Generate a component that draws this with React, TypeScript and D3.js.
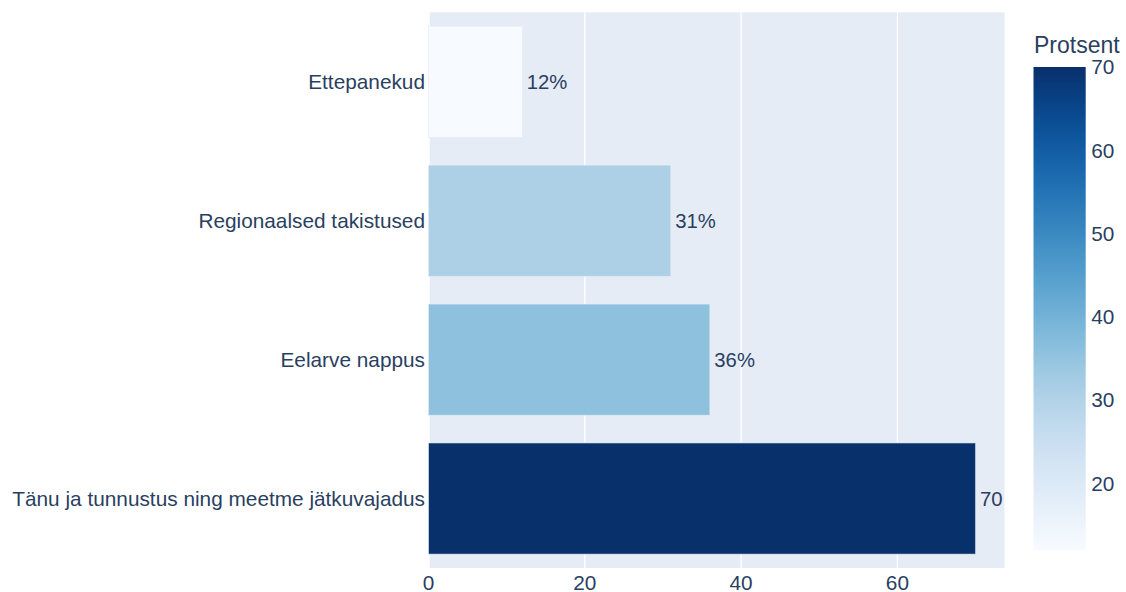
import React from "react";
import * as d3 from "d3";

const categories = [
  "Ettepanekud",
  "Regionaalsed takistused",
  "Eelarve nappus",
  "Tänu ja tunnustus ning meetme jätkuvajadus",
];
const values = [12, 31, 36, 70];
const valueLabels = ["12%", "31%", "36%", "70"];
const xTicks = [0, 20, 40, 60];
const cbTicks = [20, 30, 40, 50, 60, 70];
const bluesStops = [
  "rgb(247,251,255)",
  "rgb(222,235,247)",
  "rgb(198,219,239)",
  "rgb(158,202,225)",
  "rgb(107,174,214)",
  "rgb(66,146,198)",
  "rgb(33,113,181)",
  "rgb(8,81,156)",
  "rgb(8,48,107)",
];
const colorTitle = "Protsent";

const W = 1126;
const H = 592;
const plot = { left: 428.5, right: 1004.5, top: 12.3, bottom: 568 };
const cb = { left: 1033.5, right: 1085.7, top: 67, bottom: 550 };
const FONT = "'Liberation Sans', Arial, sans-serif";
const TXT = "#2a3f5f";

export default function App() {
  const x = d3.scaleLinear().domain([0, 73.7]).range([plot.left, plot.right]);
  const y = d3
    .scaleBand<string>()
    .domain(categories)
    .range([plot.top, plot.bottom])
    .paddingInner(0.2)
    .paddingOuter(0.1);
  const cmin = d3.min(values)!;
  const cmax = d3.max(values)!;
  const interp = d3.interpolateRgbBasis(bluesStops);
  const color = (v: number) => interp((v - cmin) / (cmax - cmin));
  const cbY = d3.scaleLinear().domain([cmin, cmax]).range([cb.bottom, cb.top]);
  const gradStops = d3.range(0, 1.0001, 0.0625);

  return (
    <div style={{ position: "absolute", left: 0, top: 0 }}>
      <svg width={W} height={H} style={{ display: "block", background: "#fff" }}>
        <defs>
          <linearGradient id="cbgrad" x1="0" y1="1" x2="0" y2="0">
            {gradStops.map((t, i) => (
              <stop key={i} offset={t} stopColor={interp(t)} />
            ))}
          </linearGradient>
        </defs>
        <rect
          x={plot.left}
          y={plot.top}
          width={plot.right - plot.left}
          height={plot.bottom - plot.top}
          fill="#E5ECF6"
        />
        {xTicks.map((t) => (
          <line
            key={t}
            x1={x(t)}
            x2={x(t)}
            y1={plot.top}
            y2={plot.bottom}
            stroke="#fff"
            strokeWidth={t === 0 ? 2.5 : 1.3}
          />
        ))}
        {categories.map((c, i) => (
          <g key={c}>
            <rect
              x={x(0)}
              y={y(c)!}
              width={x(values[i]) - x(0)}
              height={y.bandwidth()}
              fill={color(values[i])}
              stroke="#E5ECF6"
              strokeWidth={0.6}
            />
            <text
              x={x(values[i]) + 4.5}
              y={y(c)! + y.bandwidth() / 2}
              dy="0.35em"
              fontFamily={FONT}
              fontSize={20.3}
              fill={TXT}
            >
              {valueLabels[i]}
            </text>
            <text
              x={plot.left - 3.5}
              y={y(c)! + y.bandwidth() / 2}
              dy="0.35em"
              textAnchor="end"
              fontFamily={FONT}
              fontSize={20.8}
              fill={TXT}
            >
              {c}
            </text>
          </g>
        ))}
        {xTicks.map((t) => (
          <text
            key={t}
            x={x(t)}
            y={590}
            textAnchor="middle"
            fontFamily={FONT}
            fontSize={20.8}
            fill={TXT}
          >
            {t}
          </text>
        ))}
        <rect
          x={cb.left}
          y={cb.top}
          width={cb.right - cb.left}
          height={cb.bottom - cb.top}
          fill="url(#cbgrad)"
        />
        {cbTicks.map((t) => (
          <text
            key={t}
            x={cb.right + 5.5}
            y={cbY(t)}
            dy="0.35em"
            fontFamily={FONT}
            fontSize={20.8}
            fill={TXT}
          >
            {t}
          </text>
        ))}
        <text
          x={cb.left + 0.5}
          y={53}
          fontFamily={FONT}
          fontSize={23}
          fill={TXT}
        >
          {colorTitle}
        </text>
      </svg>
    </div>
  );
}
